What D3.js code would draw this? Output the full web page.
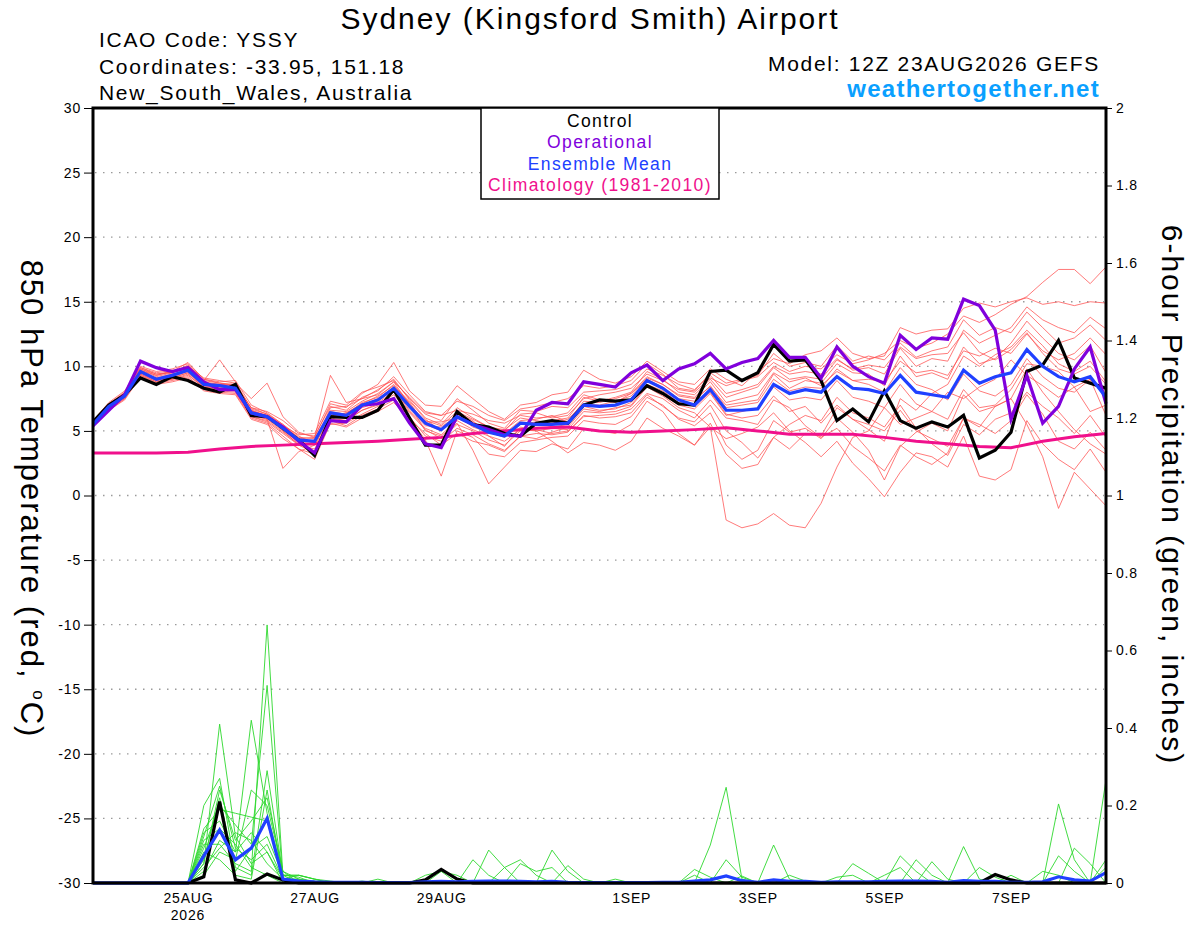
<!DOCTYPE html>
<html>
<head>
<meta charset="utf-8">
<script src="https://cdn.jsdelivr.net/npm/d3@7"></script>
<style>
  body { margin: 0; background: #fff; }
  text { font-family: "Liberation Sans", Arial, Helvetica, sans-serif; }
</style>
</head>
<body>
<div id="chart"></div>
<script>
// 850 hPa temperature, 6-hourly from 12Z 23AUG2026 (65 steps)
const controlTemp = [
  5.7, 7.0, 7.8, 9.1, 8.6, 9.2, 8.9, 8.3, 8.0, 8.6, 6.2, 6.1, 5.2, 4.3, 3.1, 6.1, 6.05, 6.05, 6.6, 8.2, 6.0, 3.9, 3.9, 6.5, 5.5, 5.3, 4.8, 4.6, 5.6, 5.8, 5.6, 7.0, 7.4,
  7.3, 7.4, 8.5, 7.9, 7.1, 7.0, 9.6, 9.7, 8.9, 9.5, 11.7, 10.4, 10.5, 8.9, 5.8, 6.7, 5.7, 8.1, 5.8, 5.2, 5.7, 5.3, 6.2, 2.9, 3.5, 4.9, 9.6, 10.1, 12.0, 9.1, 8.7, 8.3];
const operationalTemp = [
  5.4, 6.6, 7.8, 10.4, 9.9, 9.6, 9.9, 8.8, 8.2, 8.2, 6.4, 6.1, 5.3, 4.2, 3.3, 5.8, 5.7, 7.0, 7.1, 7.5, 5.6, 4.0, 3.7, 6.1, 5.5, 5.1, 4.7, 4.6, 6.6, 7.2, 7.1, 8.8, 8.6,
  8.4, 9.5, 10.1, 8.9, 9.8, 10.2, 11.0, 9.8, 10.3, 10.6, 12.0, 10.7, 10.7, 9.1, 11.5, 10.0, 9.2, 8.7, 12.4, 11.3, 12.2, 12.1, 15.2, 14.7, 12.8, 5.9, 9.3, 5.6, 6.9, 9.8, 11.5, 7.1];
const meanTemp = [
  5.5, 6.9, 7.7, 9.6, 9.0, 9.3, 9.7, 8.6, 8.5, 8.3, 6.4, 6.1, 5.2, 4.3, 4.2, 6.4, 6.2, 7.0, 7.4, 8.3, 6.9, 5.6, 5.1, 6.1, 5.5, 4.9, 4.6, 5.6, 5.5, 5.5, 5.6, 7.0, 6.9,
  7.0, 7.4, 8.9, 8.3, 7.4, 7.0, 8.2, 6.6, 6.6, 6.7, 8.6, 7.9, 8.2, 8.0, 9.2, 8.3, 8.2, 7.9, 9.3, 8.0, 7.8, 7.6, 9.7, 8.7, 9.2, 9.5, 11.3, 10.0, 9.2, 8.8, 9.2, 7.6];
// climatology, 12-hourly (33 steps)
const climTemp = [3.3, 3.3, 3.3, 3.35, 3.6, 3.8, 3.9, 4.0, 4.1, 4.2, 4.35, 4.5, 4.8, 5.0, 5.2, 5.3, 5.0,
  4.9, 5.0, 5.1, 5.25, 5.0, 4.75, 4.75, 4.75, 4.5, 4.2, 4.0, 3.8, 3.7, 4.2, 4.55, 4.8];

const tempMember01 = [5.7, 7.1, 8.0, 10.0, 9.6, 9.8, 10.2, 9.0, 8.8, 8.9, 7.0, 6.4, 5.5, 4.6, 4.0, 6.8, 6.9, 7.5, 8.2, 9.0, 7.4, 6.0, 5.5, 6.8, 6.0, 5.3, 5.0, 6.3, 6.4, 6.0, 6.2, 7.5, 7.8,
  8.0, 8.3, 9.4, 8.9, 8.2, 8.0, 9.1, 8.5, 8.9, 9.2, 10.3, 9.6, 10.0, 9.8, 10.9, 10.2, 10.5, 11.0, 12.0, 11.4, 11.8, 12.5, 13.9, 13.4, 14.0, 14.8, 15.4, 16.5, 17.5, 17.5, 16.4, 17.7];
const tempMember02 = [5.4, 6.6, 7.5, 9.3, 8.8, 9.0, 9.4, 8.3, 8.1, 8.0, 6.1, 5.8, 4.9, 4.0, 3.9, 6.0, 5.8, 6.6, 7.0, 8.0, 6.5, 5.2, 4.7, 5.8, 5.1, 4.6, 4.2, 5.1, 5.0, 5.2, 5.1, 6.5, 6.4,
  6.5, 6.9, 8.4, 7.7, 6.8, 6.4, 5.3, -1.9, -2.5, -2.2, -1.4, -2.3, -2.5, -0.6, 2.2, 4.5, 5.0, 6.8, 5.5, 6.0, 6.5, 8.0, 7.5, 8.4, 9.0, 10.5, 9.3, 8.5, 7.6, 8.4, 6.5, 7.0];
const tempMember03 = [5.8, 7.0, 7.9, 9.8, 9.4, 9.6, 10.0, 9.1, 8.9, 8.7, 7.5, 8.7, 6.1, 4.9, 4.5, 9.3, 7.2, 7.5, 7.8, 8.8, 7.6, 6.4, 6.2, 6.6, 6.3, 5.8, 5.6, 6.2, 6.0, 6.1, 6.4, 7.8, 7.4,
  7.2, 7.9, 9.2, 8.6, 7.7, 7.5, 8.4, 7.0, 7.2, 7.4, 9.4, 8.3, 8.9, 8.7, 10.2, 9.5, 9.4, 8.5, 10.8, 9.2, 9.5, 9.0, 11.5, 10.2, 10.6, 11.8, 13.5, 12.2, 11.0, 10.5, 11.6, 9.5];
const tempMember04 = [5.6, 6.8, 7.6, 9.5, 8.9, 9.1, 9.5, 8.4, 8.3, 8.2, 6.3, 5.9, 2.1, 3.4, 3.9, 5.5, 5.6, 6.3, 6.9, 7.6, 6.0, 4.3, 1.5, 5.0, 4.5, 3.2, 3.0, 4.1, 4.3, 4.5, 4.6, 5.8, 5.6,
  5.5, 6.1, 7.6, 7.0, 5.9, 5.4, 6.4, 3.9, 2.8, 3.5, 5.8, 4.9, 5.2, 4.4, 6.0, 4.9, 3.5, 1.2, 3.8, 4.9, 5.6, 5.0, 7.8, 6.5, 6.9, 7.5, 9.8, 8.0, 6.5, 5.1, 4.0, 3.2];
const tempMember05 = [5.5, 6.9, 7.8, 9.7, 9.2, 9.5, 9.9, 8.8, 8.6, 8.4, 6.5, 6.2, 5.4, 4.5, 4.4, 6.6, 6.5, 7.3, 7.9, 8.8, 7.0, 5.0, 4.6, 5.6, 3.5, 0.9, 2.2, 3.5, 3.4, 4.0, 3.6, 5.2, 5.0,
  4.8, 5.5, 7.3, 6.5, 4.8, 3.9, 5.6, 3.2, 2.1, 2.4, 4.5, 3.6, 4.8, 4.6, 6.8, 5.9, 5.1, 4.2, 7.5, 6.6, 7.9, 8.6, 10.8, 10.0, 10.9, 11.5, 12.8, 11.6, 10.2, 9.6, 10.4, 8.8];
const tempMember06 = [5.6, 7.0, 7.9, 9.8, 9.3, 9.6, 10.3, 9.0, 8.7, 8.5, 6.8, 6.3, 5.5, 4.4, 4.5, 7.1, 6.8, 7.9, 8.6, 10.3, 8.1, 7.0, 6.9, 8.5, 7.5, 6.5, 5.9, 7.0, 7.2, 7.8, 8.0, 9.7, 9.0,
  8.7, 9.2, 10.4, 9.6, 8.8, 8.6, 9.8, 9.0, 8.5, 9.6, 10.6, 10.2, 10.9, 11.2, 12.2, 11.0, 10.6, 10.8, 13.0, 12.5, 12.8, 12.9, 14.5, 14.9, 14.6, 15.0, 15.3, 14.8, 15.0, 14.7, 15.0, 14.9];
const tempMember07 = [5.5, 6.7, 7.6, 9.4, 8.8, 9.0, 9.3, 8.4, 8.2, 8.1, 6.1, 5.7, 4.8, 3.9, 3.6, 5.9, 5.8, 6.6, 7.1, 7.8, 6.4, 5.1, 4.4, 5.5, 5.0, 4.3, 3.9, 5.0, 5.1, 4.8, 5.0, 6.1, 6.2,
  6.3, 6.7, 7.9, 7.5, 6.6, 6.0, 7.4, 6.0, 5.8, 5.5, 7.4, 6.8, 5.4, 4.5, 5.2, 3.8, 2.9, 1.9, 3.9, 3.0, 2.4, 3.3, 6.0, 5.3, 6.9, 7.5, 5.5, 3.0, -1.0, 1.8, 0.5, -0.8];
const tempMember08 = [5.4, 6.9, 7.7, 9.5, 9.1, 9.2, 9.6, 8.5, 8.4, 8.2, 6.4, 6.0, 5.2, 4.2, 4.3, 6.3, 6.0, 6.8, 7.2, 8.0, 6.8, 5.8, 5.4, 6.5, 5.9, 5.3, 5.1, 6.0, 5.8, 5.6, 5.9, 7.1, 7.0,
  7.3, 7.7, 9.1, 8.6, 7.8, 7.6, 8.8, 7.2, 7.5, 7.8, 9.5, 8.8, 9.1, 8.5, 9.6, 8.9, 8.6, 8.0, 9.9, 8.6, 8.2, 7.4, 9.4, 8.1, 7.7, 8.6, 10.6, 9.2, 8.3, 8.0, 9.0, 7.8];
const tempMember09 = [5.6, 6.8, 7.7, 9.6, 9.0, 9.3, 9.8, 8.6, 8.4, 8.4, 6.6, 6.2, 5.0, 3.9, 3.3, 6.0, 6.4, 7.1, 7.7, 8.5, 7.3, 5.9, 5.0, 6.4, 5.8, 4.6, 3.8, 5.3, 5.0, 4.2, 3.3, 4.1, 3.9,
  3.5, 4.2, 6.0, 5.2, 4.6, 3.9, 5.3, 4.4, 4.8, 5.3, 6.4, 5.0, 4.1, 3.0, 4.2, 2.5, 1.3, -0.1, 1.8, 3.3, 3.0, 2.2, 4.6, 1.5, 1.2, 2.0, 5.8, 4.0, 2.8, 2.0, 3.6, 1.8];
const tempMember10 = [5.7, 7.1, 7.9, 9.7, 9.3, 9.6, 9.9, 8.9, 8.7, 8.6, 6.8, 6.5, 5.8, 4.8, 4.6, 6.9, 6.6, 7.6, 8.1, 9.2, 7.8, 6.5, 6.2, 7.3, 6.9, 6.2, 5.8, 6.7, 6.9, 7.2, 7.5, 8.5, 8.3,
  8.5, 8.9, 10.2, 9.4, 8.3, 8.1, 9.5, 8.7, 9.0, 9.3, 11.0, 10.0, 10.3, 10.0, 11.6, 10.4, 10.8, 10.5, 11.8, 10.7, 11.2, 11.5, 13.6, 12.4, 13.0, 12.6, 14.2, 13.0, 11.8, 12.2, 13.2, 12.0];
const tempMember11 = [5.3, 6.7, 7.5, 9.3, 8.7, 8.9, 9.2, 8.2, 8.0, 7.9, 6.0, 5.6, 4.6, 3.6, 3.2, 5.8, 5.4, 6.2, 6.7, 7.4, 6.1, 4.6, 4.2, 5.2, 4.7, 4.0, 3.5, 4.6, 4.4, 4.9, 5.3, 6.7, 6.5,
  6.8, 7.0, 8.5, 7.8, 7.0, 6.7, 7.9, 6.2, 6.5, 6.8, 8.4, 7.4, 7.6, 7.4, 8.9, 7.6, 7.3, 6.8, 8.6, 7.1, 6.5, 5.9, 8.2, 6.8, 7.0, 8.2, 10.2, 10.0, 9.6, 8.4, 9.0, 6.2];
const tempMember12 = [5.6, 7.0, 7.8, 9.9, 9.4, 9.5, 10.1, 8.9, 10.5, 8.8, 6.7, 6.3, 5.4, 4.7, 4.8, 7.3, 7.0, 8.0, 8.4, 8.9, 7.5, 6.3, 5.8, 7.5, 6.6, 5.6, 5.2, 6.6, 6.5, 6.9, 6.8, 8.0, 8.1,
  8.2, 8.6, 9.8, 9.3, 8.6, 8.2, 9.3, 7.9, 8.2, 8.6, 10.0, 9.4, 9.6, 9.4, 10.6, 9.7, 9.9, 9.4, 11.4, 10.0, 10.6, 10.4, 12.8, 11.8, 12.4, 13.0, 14.6, 13.6, 13.0, 12.6, 13.8, 12.9];
const tempMember13 = [5.5, 6.8, 7.6, 9.4, 8.9, 9.1, 9.5, 8.5, 8.3, 8.3, 6.2, 5.9, 5.0, 4.1, 4.0, 6.1, 6.0, 6.9, 7.3, 8.2, 6.6, 5.4, 5.3, 6.2, 5.3, 4.9, 4.5, 5.5, 5.7, 5.3, 5.5, 6.9, 6.6,
  6.7, 7.2, 8.6, 8.1, 7.2, 6.9, 8.0, 6.3, 6.0, 6.2, 7.7, 6.5, 6.9, 5.6, 7.0, 5.9, 5.5, 5.0, 6.6, 5.0, 4.4, 3.8, 6.0, 5.5, 4.8, 5.8, 7.8, 6.3, 4.2, 3.6, 4.9, 3.5];
const tempMember14 = [5.8, 7.2, 8.1, 9.9, 9.5, 9.7, 9.6, 8.7, 8.6, 8.5, 6.6, 6.1, 5.3, 4.4, 4.1, 6.5, 6.3, 7.2, 7.6, 8.6, 7.1, 5.7, 5.7, 6.0, 5.6, 5.1, 4.8, 5.8, 5.9, 6.2, 5.7, 7.3, 7.2,
  7.5, 7.9, 9.0, 8.4, 7.5, 7.3, 8.5, 6.8, 7.0, 7.2, 9.0, 8.1, 8.4, 8.3, 9.8, 8.9, 9.0, 8.8, 10.4, 9.5, 9.7, 9.3, 11.2, 10.8, 11.4, 11.0, 12.5, 11.2, 10.5, 11.0, 12.2, 10.9];
const tempMember15 = [5.4, 6.6, 7.4, 9.2, 8.6, 8.8, 9.1, 8.1, 7.9, 7.8, 5.9, 5.5, 4.4, 3.6, 2.8, 5.6, 5.3, 6.0, 6.5, 7.2, 5.9, 4.8, 3.9, 4.8, 4.2, 3.9, 3.4, 4.6, 4.8, 4.7, 4.9, 6.2, 6.0,
  6.1, 6.4, 7.8, 6.9, 6.0, 5.7, 7.0, 5.0, 4.1, 2.9, 4.5, 5.5, 6.2, 5.8, 7.6, 6.4, 6.0, 5.3, 7.0, 5.2, 4.0, 3.1, 5.5, 4.7, 5.9, 6.4, 8.0, 6.9, 6.0, 4.8, 6.2, 4.5];
const tempMember16 = [5.6, 6.9, 7.7, 9.5, 9.1, 9.4, 9.7, 8.6, 8.6, 8.6, 6.5, 6.2, 5.1, 4.3, 4.1, 6.2, 6.4, 7.0, 7.5, 8.4, 7.2, 5.5, 5.0, 6.3, 5.7, 5.0, 4.7, 5.7, 5.6, 5.8, 6.0, 7.6, 7.3,
  7.6, 8.0, 9.6, 9.0, 8.0, 7.8, 9.0, 7.6, 8.0, 8.4, 9.9, 9.0, 9.2, 9.0, 10.5, 9.8, 10.1, 9.9, 11.5, 10.6, 10.9, 11.0, 12.6, 11.1, 10.5, 11.3, 12.6, 11.0, 9.8, 9.4, 10.0, 8.6];

// 6-hour precipitation (inches), same 65 steps
const controlRain = [
  0, 0, 0, 0, 0, 0, 0, 0.016, 0.21, 0.008, 0, 0.023, 0.008,
  0, 0, 0, 0, 0, 0, 0, 0, 0.008, 0.035, 0.01, 0, 0,
  0, 0, 0, 0, 0, 0, 0, 0, 0, 0, 0, 0, 0,
  0, 0, 0, 0, 0, 0, 0, 0, 0, 0, 0, 0, 0,
  0, 0, 0, 0, 0, 0.022, 0.008, 0, 0, 0, 0, 0, 0];
const meanRain = [
  0, 0, 0, 0, 0, 0, 0, 0.07, 0.137, 0.06, 0.09, 0.167, 0.01,
  0.005, 0.003, 0.002, 0.002, 0.002, 0.001, 0.001, 0.001, 0.003, 0.004, 0.003, 0.004, 0.005,
  0.005, 0.004, 0.003, 0.004, 0.002, 0.001, 0.001, 0.001, 0.001, 0.001, 0.002, 0.002, 0.005,
  0.008, 0.018, 0.006, 0.002, 0.008, 0.004, 0.004, 0.002, 0.003, 0.003, 0.003, 0.004, 0.005,
  0.005, 0.004, 0.002, 0.006, 0.004, 0.004, 0.002, 0.002, 0.003, 0.016, 0.008, 0.005, 0.027];

const rainMember01 = [
  0, 0, 0, 0, 0, 0, 0, 0.05, 0.41, 0.12, 0.05, 0.08, 0.01,
  0.01, 0.005, 0, 0, 0, 0, 0, 0, 0, 0, 0, 0, 0,
  0, 0, 0, 0, 0, 0, 0, 0, 0, 0, 0, 0, 0,
  0.098, 0.247, 0.01, 0, 0, 0, 0, 0, 0, 0, 0, 0, 0,
  0, 0, 0, 0, 0, 0, 0, 0, 0, 0.07, 0.03, 0, 0.04];
const rainMember02 = [
  0, 0, 0, 0, 0, 0, 0, 0.13, 0.16, 0.08, 0.42, 0.18, 0.02,
  0.02, 0.01, 0, 0, 0, 0, 0, 0, 0, 0, 0, 0, 0,
  0, 0, 0, 0, 0, 0, 0, 0, 0, 0, 0, 0, 0,
  0, 0.06, 0.015, 0, 0, 0, 0, 0, 0, 0, 0, 0, 0,
  0, 0, 0, 0.094, 0.01, 0, 0, 0, 0, 0, 0, 0, 0.266];
const rainMember03 = [
  0, 0, 0, 0, 0, 0, 0, 0.10, 0.10, 0.05, 0.03, 0.666, 0.02,
  0.015, 0, 0, 0, 0, 0, 0, 0, 0, 0, 0, 0, 0,
  0, 0, 0, 0, 0, 0, 0, 0, 0, 0, 0, 0, 0,
  0, 0, 0, 0, 0.098, 0.01, 0, 0, 0, 0, 0, 0, 0,
  0, 0, 0, 0, 0, 0, 0, 0, 0, 0.204, 0.06, 0, 0];
const rainMember04 = [
  0, 0, 0, 0, 0, 0, 0, 0.09, 0.20, 0.15, 0.10, 0.51, 0.01,
  0.01, 0, 0, 0, 0, 0, 0, 0, 0, 0, 0, 0, 0,
  0, 0, 0, 0, 0, 0, 0, 0, 0, 0, 0, 0, 0.035,
  0.015, 0, 0.018, 0, 0, 0, 0, 0, 0, 0, 0, 0, 0.07,
  0.03, 0, 0, 0, 0, 0, 0, 0, 0, 0, 0, 0, 0];
const rainMember05 = [
  0, 0, 0, 0, 0, 0, 0, 0.20, 0.27, 0.04, 0.02, 0.29, 0.02,
  0.02, 0.01, 0.005, 0, 0, 0, 0, 0, 0, 0, 0, 0, 0,
  0, 0, 0, 0, 0, 0, 0, 0, 0, 0, 0, 0, 0,
  0, 0, 0, 0, 0, 0.02, 0.005, 0, 0, 0, 0, 0, 0,
  0.06, 0.02, 0, 0, 0, 0, 0, 0, 0, 0, 0.09, 0.05, 0];
const rainMember06 = [
  0, 0, 0, 0, 0, 0, 0, 0.05, 0.24, 0.11, 0.16, 0.22, 0.03,
  0.01, 0, 0, 0, 0, 0, 0, 0, 0, 0, 0, 0, 0,
  0, 0, 0, 0, 0, 0, 0, 0, 0, 0, 0, 0, 0,
  0, 0, 0, 0, 0, 0, 0, 0, 0, 0.05, 0.025, 0, 0,
  0, 0, 0, 0, 0, 0, 0, 0, 0, 0, 0, 0, 0.06];
const rainMember07 = [
  0, 0, 0, 0, 0, 0, 0, 0.14, 0.19, 0.18, 0.17, 0.16, 0.01,
  0, 0, 0, 0, 0.005, 0, 0, 0, 0, 0, 0, 0, 0,
  0, 0, 0, 0, 0, 0, 0, 0, 0, 0, 0, 0, 0,
  0, 0, 0, 0, 0, 0, 0, 0, 0, 0, 0, 0, 0,
  0, 0.055, 0.01, 0, 0.04, 0.015, 0, 0, 0, 0, 0, 0, 0];
const rainMember08 = [
  0, 0, 0, 0, 0, 0, 0, 0.03, 0.11, 0.08, 0.13, 0.08, 0,
  0, 0, 0, 0, 0, 0, 0, 0, 0, 0, 0, 0, 0.085,
  0.04, 0, 0, 0, 0, 0, 0, 0, 0, 0, 0, 0, 0,
  0, 0, 0, 0, 0, 0, 0, 0, 0, 0, 0, 0, 0,
  0, 0, 0, 0, 0, 0, 0, 0, 0.03, 0.02, 0, 0, 0];
const rainMember09 = [
  0, 0, 0, 0, 0, 0, 0, 0.08, 0.06, 0.02, 0.01, 0.24, 0.01,
  0, 0, 0, 0, 0, 0, 0, 0, 0, 0, 0, 0, 0,
  0, 0, 0, 0.085, 0.03, 0, 0, 0, 0, 0, 0, 0, 0,
  0, 0, 0, 0, 0, 0, 0, 0, 0, 0, 0, 0.02, 0.04,
  0, 0, 0, 0, 0, 0, 0, 0, 0, 0, 0, 0, 0];
const rainMember10 = [
  0, 0, 0, 0, 0, 0, 0, 0.11, 0.14, 0.10, 0.04, 0.02, 0,
  0, 0, 0, 0, 0, 0, 0, 0, 0, 0, 0, 0.06, 0.02,
  0, 0, 0, 0, 0, 0, 0, 0, 0, 0, 0, 0, 0,
  0, 0, 0, 0, 0, 0, 0, 0, 0.015, 0.02, 0, 0, 0,
  0, 0, 0, 0, 0, 0, 0, 0, 0, 0, 0, 0, 0];
const rainMember11 = [
  0, 0, 0, 0, 0, 0, 0, 0.06, 0.22, 0.03, 0.09, 0.12, 0.02,
  0, 0, 0, 0, 0, 0, 0, 0, 0, 0, 0, 0, 0,
  0, 0.05, 0.03, 0.04, 0, 0, 0, 0, 0, 0, 0, 0, 0,
  0, 0, 0, 0, 0, 0, 0, 0, 0, 0, 0, 0, 0,
  0, 0, 0, 0, 0, 0, 0.02, 0, 0, 0, 0, 0, 0];
const rainMember12 = [
  0, 0, 0, 0, 0, 0, 0, 0.02, 0.08, 0.06, 0.24, 0.20, 0.03,
  0, 0, 0, 0, 0, 0, 0, 0, 0, 0.03, 0.02, 0, 0,
  0.04, 0.06, 0.02, 0, 0, 0, 0, 0, 0, 0, 0, 0, 0,
  0, 0, 0, 0, 0, 0, 0, 0, 0, 0, 0, 0, 0,
  0, 0, 0, 0, 0, 0, 0, 0, 0, 0, 0, 0, 0];
const rainMember13 = [
  0, 0, 0, 0, 0, 0, 0, 0.12, 0.25, 0.09, 0.06, 0.10, 0.01,
  0, 0, 0, 0, 0, 0, 0, 0, 0.02, 0.03, 0, 0, 0,
  0, 0, 0, 0, 0.045, 0.01, 0, 0, 0, 0, 0, 0, 0,
  0, 0, 0, 0, 0, 0, 0, 0, 0, 0, 0, 0, 0,
  0, 0, 0, 0, 0, 0, 0, 0, 0, 0, 0, 0, 0];
const rainMember14 = [
  0, 0, 0, 0, 0, 0, 0, 0.04, 0.09, 0.13, 0.11, 0.05, 0.01,
  0.02, 0.01, 0, 0, 0, 0.01, 0, 0, 0, 0, 0, 0, 0,
  0, 0, 0, 0, 0, 0, 0, 0.01, 0, 0, 0, 0, 0.02,
  0, 0, 0, 0, 0, 0, 0, 0, 0, 0, 0, 0, 0,
  0, 0, 0, 0, 0, 0, 0, 0, 0, 0, 0, 0, 0];

const tempMembers = [tempMember01, tempMember02, tempMember03, tempMember04, tempMember05, tempMember06,
  tempMember07, tempMember08, tempMember09, tempMember10, tempMember11, tempMember12, tempMember13,
  tempMember14, tempMember15, tempMember16];
const rainMembers = [rainMember01, rainMember02, rainMember03, rainMember04, rainMember05, rainMember06,
  rainMember07, rainMember08, rainMember09, rainMember10, rainMember11, rainMember12, rainMember13, rainMember14];

const tempTicks = [-30, -25, -20, -15, -10, -5, 0, 5, 10, 15, 20, 25, 30];
const rainTicks = [0, 0.2, 0.4, 0.6, 0.8, 1, 1.2, 1.4, 1.6, 1.8, 2];
const dayTicks = ["2026-08-25", "2026-08-27", "2026-08-29", "2026-09-01", "2026-09-03", "2026-09-05", "2026-09-07"];
const dayLabels = ["25AUG", "27AUG", "29AUG", "1SEP", "3SEP", "5SEP", "7SEP"];
const legendItems = ["Control", "Operational", "Ensemble Mean", "Climatology (1981-2010)"];
const legendColors = ["#000000", "#8000dc", "#2040ff", "#f0108c"];

let width = 1200, height = 927;
let margin = {top: 108, bottom: 44, left: 93, right: 94};
let w = width - margin.left - margin.right;
let h = height - margin.top - margin.bottom;

let runStart = Date.UTC(2026, 7, 23, 12);
let hour = 3600000;
let times = controlTemp.map((d, i) => new Date(runStart + i * 6 * hour));
let climTimes = climTemp.map((d, i) => new Date(runStart + i * 12 * hour));

let svg = d3.select("#chart")
    .append("svg")
    .attr("width", width)
    .attr("height", height);

svg.append("rect").attr("width", width).attr("height", height).attr("fill", "#fff");

let x = d3.scaleUtc()
    .domain([new Date(runStart), new Date(runStart + 384 * hour)])
    .range([margin.left, margin.left + w]);
let yT = d3.scaleLinear().domain([-30, 30]).range([margin.top + h, margin.top]);
let yP = d3.scaleLinear().domain([0, 2]).range([margin.top + h, margin.top]);

// dotted grid on the temperature ticks
svg.append("g")
    .selectAll("line")
    .data(tempTicks.filter(d => d > -30 && d < 30))
    .join("line")
    .attr("x1", margin.left + 2).attr("x2", margin.left + w - 2)
    .attr("y1", d => yT(d)).attr("y2", d => yT(d))
    .attr("stroke", "#9a9a9a")
    .attr("stroke-width", 1.3)
    .attr("stroke-dasharray", "1.5,6.5");

let plot = svg.append("g");

let tempLine = d3.line().x((d, i) => x(times[i])).y(d => yT(d));
let rainLine = d3.line().x((d, i) => x(times[i])).y(d => yP(d));
let climLine = d3.line().x((d, i) => x(climTimes[i])).y(d => yT(d));

plot.selectAll(".member")
    .data(tempMembers)
    .join("path")
    .attr("d", tempLine)
    .attr("fill", "none")
    .attr("stroke", "#ff5050")
    .attr("stroke-opacity", 0.85)
    .attr("stroke-width", 0.9);

plot.selectAll(".rain")
    .data(rainMembers)
    .join("path")
    .attr("d", rainLine)
    .attr("fill", "none")
    .attr("stroke", "#2ed82e")
    .attr("stroke-width", 0.9);

plot.append("path").attr("d", climLine(climTemp))
    .attr("fill", "none").attr("stroke", legendColors[3]).attr("stroke-width", 3);

plot.append("path").attr("d", tempLine(controlTemp))
    .attr("fill", "none").attr("stroke", legendColors[0]).attr("stroke-width", 3.2);
plot.append("path").attr("d", tempLine(operationalTemp))
    .attr("fill", "none").attr("stroke", legendColors[1]).attr("stroke-width", 3.2);
plot.append("path").attr("d", tempLine(meanTemp))
    .attr("fill", "none").attr("stroke", legendColors[2]).attr("stroke-width", 3.2);

plot.append("path").attr("d", rainLine(controlRain))
    .attr("fill", "none").attr("stroke", legendColors[0]).attr("stroke-width", 3.2);
plot.append("path").attr("d", rainLine(meanRain))
    .attr("fill", "none").attr("stroke", legendColors[2]).attr("stroke-width", 3.2);

// frame
svg.append("rect")
    .attr("x", margin.left).attr("y", margin.top)
    .attr("width", w).attr("height", h)
    .attr("fill", "none")
    .attr("stroke", "#000")
    .attr("stroke-width", 3);

// axes
let yAxisLeft = d3.axisLeft(yT).tickValues(tempTicks).tickFormat(d => String(d)).tickSize(9).tickPadding(3);
let yAxisRight = d3.axisRight(yP).tickValues(rainTicks).tickFormat(d => String(d)).tickSize(6).tickPadding(4);
let xAxis = d3.axisBottom(x)
    .tickValues(dayTicks.map(d => new Date(d + "T00:00:00Z")))
    .tickFormat((d, i) => dayLabels[i])
    .tickSize(0).tickPadding(10);

let gl = svg.append("g").attr("transform", `translate(${margin.left},0)`).call(yAxisLeft);
let gr = svg.append("g").attr("transform", `translate(${margin.left + w},0)`).call(yAxisRight);
let gx = svg.append("g").attr("transform", `translate(0,${margin.top + h})`).call(xAxis);

[gl, gr, gx].forEach(g => {
  g.select(".domain").remove();
  g.selectAll(".tick line").attr("stroke", "#000").attr("stroke-width", 1);
  g.selectAll(".tick text")
      .attr("fill", "#000")
      .style("font-size", "14px")
      .style("letter-spacing", "0.8px")
      .style("font-family", "'Liberation Sans', Arial, sans-serif");
});

svg.append("text")
    .attr("x", x(new Date(dayTicks[0] + "T00:00:00Z")))
    .attr("y", 920)
    .attr("text-anchor", "middle")
    .style("font-size", "14px")
    .style("letter-spacing", "0.8px")
    .text("2026");

// legend box
let lg = svg.append("g");
lg.append("rect")
    .attr("x", 481).attr("y", margin.top)
    .attr("width", 238).attr("height", 91)
    .attr("fill", "#fff")
    .attr("stroke", "#000")
    .attr("stroke-width", 1.5);
lg.selectAll("text")
    .data(legendItems)
    .join("text")
    .attr("x", 600)
    .attr("y", (d, i) => 127 + i * 21.3)
    .attr("text-anchor", "middle")
    .attr("fill", (d, i) => legendColors[i])
    .style("font-size", "17.5px")
    .style("letter-spacing", "1.4px")
    .text(d => d);

// titles
svg.append("text")
    .attr("x", 590).attr("y", 29)
    .attr("text-anchor", "middle")
    .style("font-size", "30px")
    .style("letter-spacing", "2px")
    .text("Sydney (Kingsford Smith) Airport");

let info = ["ICAO Code: YSSY", "Coordinates: -33.95, 151.18", "New_South_Wales, Australia"];
svg.append("g").selectAll("text")
    .data(info)
    .join("text")
    .attr("x", 99)
    .attr("y", (d, i) => 47 + i * 26.5)
    .style("font-size", "21px")
    .style("letter-spacing", "1.7px")
    .text(d => d);

svg.append("text")
    .attr("x", 1100).attr("y", 71)
    .attr("text-anchor", "end")
    .style("font-size", "21px")
    .style("letter-spacing", "1.7px")
    .text("Model: 12Z 23AUG2026 GEFS");

svg.append("text")
    .attr("x", 1100).attr("y", 97)
    .attr("text-anchor", "end")
    .attr("fill", "#0aa0ff")
    .style("font-size", "24px")
    .style("font-weight", "bold")
    .style("letter-spacing", "1.3px")
    .text("weathertogether.net");

let leftTitle = svg.append("text")
    .attr("transform", "translate(21,499) rotate(90)")
    .attr("text-anchor", "middle")
    .style("font-size", "31px")
    .style("letter-spacing", "2px");
leftTitle.append("tspan").text("850 hPa Temperature (red, ");
leftTitle.append("tspan").attr("dy", -12).style("font-size", "17px").text("o");
leftTitle.append("tspan").attr("dy", 12).text("C)");

svg.append("text")
    .attr("transform", "translate(1162,495) rotate(90)")
    .attr("text-anchor", "middle")
    .style("font-size", "30px")
    .style("letter-spacing", "2px")
    .text("6-hour Precipitation (green, inches)");
</script>
</body>
</html>
